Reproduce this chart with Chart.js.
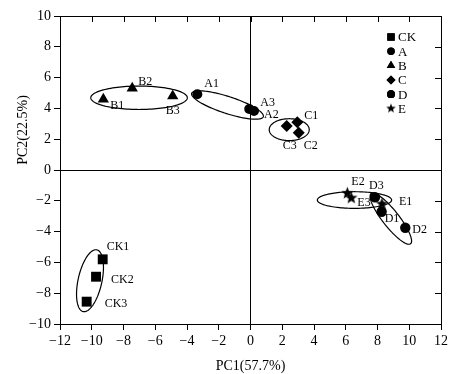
<!DOCTYPE html>
<html>
<head>
<meta charset="utf-8">
<script src="https://cdn.jsdelivr.net/npm/chart.js@4/dist/chart.umd.min.js"></script>
<style>
html,body{margin:0;padding:0;background:#fff;}
#wrap{width:469px;height:374px;}
</style>
</head>
<body>
<div id="wrap"><canvas id="c" width="469" height="374"></canvas></div>
<script>
// ---- data ----
const groups = ['CK', 'A', 'B', 'C', 'D', 'E'];
const ckLabels = ['CK1', 'CK2', 'CK3'];
const ckX = [-9.31, -9.73, -10.32];
const ckY = [-5.80, -6.93, -8.55];
const aLabels = ['A1', 'A2', 'A3'];
const aX = [-3.35, 0.22, -0.08];
const aY = [4.92, 3.83, 3.96];
const bLabels = ['B1', 'B2', 'B3'];
const bX = [-9.27, -7.45, -4.90];
const bY = [4.59, 5.31, 4.81];
const cLabels = ['C1', 'C2', 'C3'];
const cX = [2.95, 3.04, 2.28];
const cY = [3.10, 2.42, 2.86];
const dLabels = ['D1', 'D2', 'D3'];
const dX = [8.26, 9.75, 7.84];
const dY = [-2.71, -3.75, -1.77];
const eLabels = ['E1', 'E2', 'E3'];
const eX = [8.28, 6.10, 6.35];
const eY = [-2.21, -1.51, -1.82];
// confidence ellipses: centre x, centre y, semi-major, semi-minor, angle (deg)
const ellCx = [-10.11, -1.45, -7.02, 2.44, 8.84, 6.55];
const ellCy = [-7.19, 4.22, 4.69, 2.62, -3.16, -1.95];
const ellA = [2.05, 2.38, 3.04, 1.26, 2.05, 2.34];
const ellB = [0.75, 0.55, 0.76, 0.71, 0.52, 0.54];
const ellAng = [78, -18.6, 0, 0, -52.8, 0];
const xTitle = 'PC1(57.7%)';
const yTitle = 'PC2(22.5%)';

// ---- styles ----
const SERIF = '"Liberation Serif", "Times New Roman", serif';
function starCanvas(r) {
  const s = Math.ceil(r * 2 + 2);
  const cv = document.createElement('canvas');
  cv.width = s; cv.height = s;
  const g = cv.getContext('2d');
  g.fillStyle = '#000';
  g.beginPath();
  for (let i = 0; i < 10; i++) {
    const rr = i % 2 === 0 ? r : r * 0.42;
    const a = -Math.PI / 2 + i * Math.PI / 5;
    const px = s / 2 + rr * Math.cos(a), py = s / 2 + rr * Math.sin(a);
    if (i === 0) g.moveTo(px, py); else g.lineTo(px, py);
  }
  g.closePath();
  g.fill();
  return cv;
}
const star = starCanvas(6.5);
const starSmall = starCanvas(5);
const styles = [
  {pointStyle: 'rect', radius: 7},
  {pointStyle: 'circle', radius: 5},
  {pointStyle: 'triangle', radius: 6.5},
  {pointStyle: 'rectRot', radius: 6},
  {pointStyle: 'circle', radius: 5.2},
  {pointStyle: star, radius: 6}
];
// label offsets in pixels [dx, dy] (style only)
const labelOffsets = [
  [[4, -12], [15, 3], [18, 2]],
  [[7, -10], [10, 4], [11, -6]],
  [[7, 7], [6, -6], [-7, 15]],
  [[7, -6], [5, 13], [-4, 20]],
  [[3, 7], [7, 2], [-6, -11]],
  [[17, -2], [4, -11], [6, 5]]
];

const xs = [ckX, aX, bX, cX, dX, eX];
const ys = [ckY, aY, bY, cY, dY, eY];
const labs = [ckLabels, aLabels, bLabels, cLabels, dLabels, eLabels];

const datasets = groups.map((g, i) => ({
  label: g,
  data: xs[i].map((x, j) => ({x: x, y: ys[i][j]})),
  pointStyle: styles[i].pointStyle,
  pointRadius: styles[i].radius,
  pointHoverRadius: styles[i].radius,
  backgroundColor: '#000',
  borderColor: '#000',
  borderWidth: 0,
  pointBorderWidth: 0
}));

const extras = {
  id: 'extras',
  afterDatasetsDraw(chart) {
    const ctx = chart.ctx;
    const xS = chart.scales.x, yS = chart.scales.y;
    const ca = chart.chartArea;
    ctx.save();
    // ellipses
    ctx.strokeStyle = '#000';
    ctx.lineWidth = 1.2;
    for (let k = 0; k < ellCx.length; k++) {
      const t0 = ellAng[k] * Math.PI / 180;
      ctx.beginPath();
      for (let s = 0; s <= 120; s++) {
        const t = s / 120 * Math.PI * 2;
        const ex = ellA[k] * Math.cos(t), ey = ellB[k] * Math.sin(t);
        const dx = ellCx[k] + ex * Math.cos(t0) - ey * Math.sin(t0);
        const dy = ellCy[k] + ex * Math.sin(t0) + ey * Math.cos(t0);
        const px = xS.getPixelForValue(dx), py = yS.getPixelForValue(dy);
        if (s === 0) ctx.moveTo(px, py); else ctx.lineTo(px, py);
      }
      ctx.closePath();
      ctx.stroke();
    }
    // point labels
    ctx.fillStyle = '#000';
    ctx.font = '12px ' + SERIF;
    ctx.textAlign = 'left';
    ctx.textBaseline = 'middle';
    chart.data.datasets.forEach((ds, i) => {
      const meta = chart.getDatasetMeta(i);
      meta.data.forEach((pt, j) => {
        const off = labelOffsets[i][j];
        ctx.fillText(labs[i][j], pt.x + off[0], pt.y + off[1]);
      });
    });
    // frame top/right with inner ticks
    ctx.strokeStyle = '#000';
    ctx.lineWidth = 1;
    ctx.beginPath();
    ctx.moveTo(ca.left, ca.top + 0.5); ctx.lineTo(ca.right + 0.5, ca.top + 0.5);
    ctx.lineTo(ca.right + 0.5, ca.bottom);
    xS.ticks.forEach(t => {
      const px = Math.round(xS.getPixelForValue(t.value)) + 0.5;
      ctx.moveTo(px, ca.top); ctx.lineTo(px, ca.top + 6);
    });
    yS.ticks.forEach(t => {
      const py = Math.round(yS.getPixelForValue(t.value)) + 0.5;
      ctx.moveTo(ca.right, py); ctx.lineTo(ca.right - 6, py);
    });
    ctx.stroke();
    // legend
    const lx = ca.right - 50, ly0 = ca.top + 21, lstep = 14.3;
    ctx.font = '13px ' + SERIF;
    groups.forEach((g, i) => {
      const y = ly0 + i * lstep;
      let ps = styles[i].pointStyle;
      if (i === 5) ps = starSmall;
      Chart.helpers.drawPoint(ctx, {pointStyle: ps, radius: styles[i].radius * 0.75, rotation: 0, borderWidth: 0}, lx, y);
      ctx.fillStyle = '#000';
      ctx.fill();
      ctx.fillText(g, lx + 7, y + 1);
    });
    // axis titles
    ctx.font = '14px ' + SERIF;
    ctx.textAlign = 'center';
    ctx.textBaseline = 'middle';
    ctx.fillText(xTitle, (ca.left + ca.right) / 2, ca.bottom + 42);
    ctx.save();
    ctx.translate(ca.left - 37, (ca.top + ca.bottom) / 2 - 40);
    ctx.rotate(-Math.PI / 2);
    ctx.fillText(yTitle, 0, 0);
    ctx.restore();
    ctx.restore();
  }
};

const minus = v => String(v).replace('-', '\u2212');

new Chart(document.getElementById('c'), {
  type: 'scatter',
  data: {datasets: datasets},
  options: {
    responsive: false,
    animation: false,
    events: [],
    layout: {padding: {left: 5, top: 16, right: 28, bottom: 0}},
    plugins: {legend: {display: false}, tooltip: {enabled: false}},
    scales: {
      x: {
        type: 'linear', min: -12, max: 12,
        afterFit: s => { s.height = 50; },
        ticks: {stepSize: 2, color: '#000', font: {family: SERIF, size: 14}, padding: 3, callback: minus, maxRotation: 0},
        grid: {
          color: c => (c.tick && c.tick.value === 0) ? '#000' : 'rgba(0,0,0,0)',
          tickColor: '#000', tickLength: 6, lineWidth: 1
        },
        border: {color: '#000', width: 1}
      },
      y: {
        type: 'linear', min: -10, max: 10,
        afterFit: s => { s.width = 55; },
        ticks: {stepSize: 2, color: '#000', font: {family: SERIF, size: 14}, padding: 3, callback: minus},
        grid: {
          color: c => (c.tick && c.tick.value === 0) ? '#000' : 'rgba(0,0,0,0)',
          tickColor: '#000', tickLength: 6, lineWidth: 1
        },
        border: {color: '#000', width: 1}
      }
    }
  },
  plugins: [extras]
});
</script>
</body>
</html>
